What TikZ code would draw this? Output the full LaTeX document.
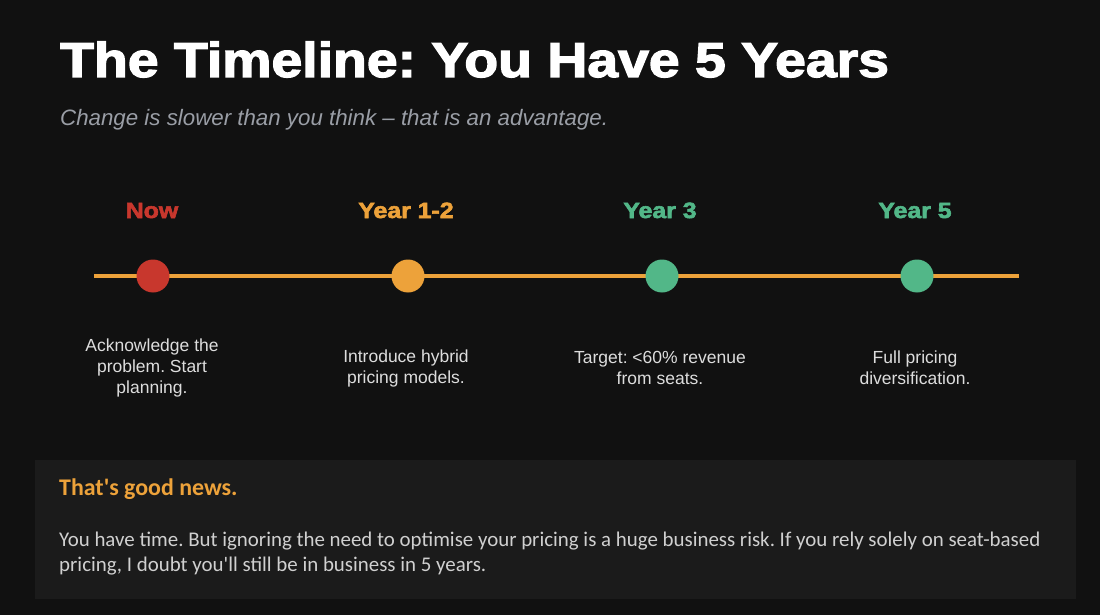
\documentclass[tikz,border=0pt]{standalone}
\usepackage{fontspec}
\setmainfont{Liberation Sans}
\newfontfamily\titlefont[FakeBold=2.5]{Liberation Sans Bold}
\newfontfamily\labfont[FakeBold=2.5]{Liberation Sans Bold}
\newfontfamily\calfont{Carlito}
\frenchspacing
\definecolor{bg}{HTML}{111111}
\definecolor{boxbg}{HTML}{1B1B1B}
\definecolor{cred}{HTML}{C8372D}
\definecolor{corange}{HTML}{EDA23A}
\definecolor{cgreen}{HTML}{52B788}
\definecolor{subgray}{HTML}{9A9EA6}
\definecolor{desc}{HTML}{DDDDDD}
\definecolor{body}{HTML}{D0D0D0}
\begin{document}
\frenchspacing
\begin{tikzpicture}[x=1pt,y=-1pt,
  dot/.style={circle,minimum size=33pt,inner sep=0pt},
  yearlab/.style={font=\labfont\fontsize{22}{26}\selectfont,anchor=base,inner sep=0pt},
  desctext/.style={font=\fontsize{17.5}{21}\selectfont,text=desc,align=center,anchor=center}]
\fill[bg] (0,0) rectangle (1100,615);
\useasboundingbox (0,0) rectangle (1100,615);
\node[anchor=base west,inner sep=0pt,text=white,font=\titlefont\fontsize{49}{52}\selectfont] (title) at (60,77) {\scalebox{1.13}[1]{The Timeline: You Have 5 Years}};
\node[anchor=base west,inner sep=0pt,text=subgray,font=\itshape\fontsize{22.3}{26}\selectfont] (sub) at (60,125) {Change is slower than you think -- that is an advantage.};
% timeline
\coordinate (ls) at (94,276);
\coordinate (le) at (1019,276);
\draw[corange,line width=4pt] (ls) -- (le);
\node[dot,fill=cred] (d1) at (153,276) {};
\node[dot,fill=corange] (d2) at (408,276) {};
\node[dot,fill=cgreen] (d3) at (662,276) {};
\node[dot,fill=cgreen] (d4) at (917,276) {};
\node[yearlab,text=cred] (y1) at (152,218) {\scalebox{1.13}[1]{Now}};
\node[yearlab,text=corange] (y2) at (406,218) {\scalebox{1.13}[1]{Year 1-2}};
\node[yearlab,text=cgreen] (y3) at (660,218) {\scalebox{1.13}[1]{Year 3}};
\node[yearlab,text=cgreen] (y4) at (915,218) {\scalebox{1.13}[1]{Year 5}};
\node[desctext] (t1) at (152,368) {Acknowledge the\\problem. Start\\planning.};
\node[desctext] (t2) at (406,368) {Introduce hybrid\\pricing models.};
\node[desctext] (t3) at (660,368) {Target: <60\% revenue\\from seats.};
\node[desctext] (t4) at (915,368) {Full pricing\\diversification.};
% box
\fill[boxbg] (35,460) rectangle (1076,599);
\node[anchor=base west,inner sep=0pt,text=corange,font=\calfont\bfseries\fontsize{23.9}{28}\selectfont] (head) at (59,495) {That's good news.};
\node[anchor=base west,inner sep=0pt,text=body,font=\calfont\fontsize{20.9}{25}\selectfont,align=left] (bodytext) at (59,571) {You have time. But ignoring the need to optimise your pricing is a huge business risk. If you rely solely on seat-based\\pricing, I doubt you'll still be in business in 5 years.};
\end{tikzpicture}
\end{document}
